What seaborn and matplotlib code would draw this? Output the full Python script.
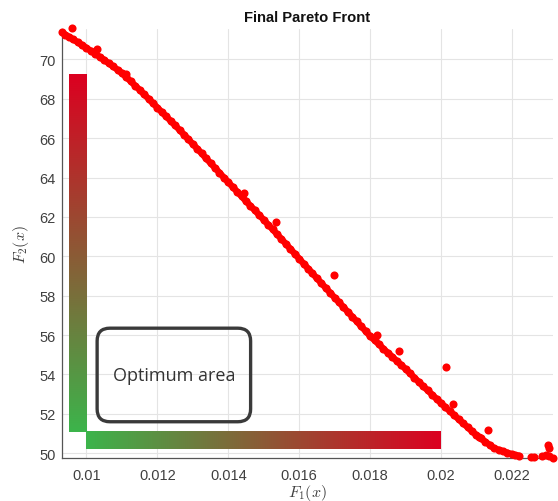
import numpy as np
import pandas as pd
import matplotlib
matplotlib.use("Agg")
import matplotlib.pyplot as plt
import seaborn as sns
from matplotlib.colors import LinearSegmentedColormap
from matplotlib.patches import FancyBboxPatch

# Non-dominated solutions of the final population (objective values)
f1_front = [
    0.009300, 0.009400, 0.009500, 0.009625, 0.009750, 0.009875,
    0.010000, 0.010125, 0.010250, 0.010375, 0.010500, 0.010625,
    0.010750, 0.010875, 0.011000, 0.011125, 0.011250, 0.011375,
    0.011500, 0.011625, 0.011750, 0.011875, 0.012000, 0.012125,
    0.012250, 0.012375, 0.012500, 0.012625, 0.012750, 0.012875,
    0.013000, 0.013125, 0.013250, 0.013375, 0.013500, 0.013625,
    0.013750, 0.013875, 0.014000, 0.014125, 0.014250, 0.014375,
    0.014500, 0.014625, 0.014750, 0.014875, 0.015000, 0.015125,
    0.015250, 0.015375, 0.015500, 0.015625, 0.015750, 0.015875,
    0.016000, 0.016125, 0.016250, 0.016375, 0.016500, 0.016625,
    0.016750, 0.016875, 0.017000, 0.017125, 0.017250, 0.017375,
    0.017500, 0.017625, 0.017750, 0.017875, 0.018000, 0.018125,
    0.018250, 0.018375, 0.018500, 0.018625, 0.018750, 0.018875,
    0.019000, 0.019125, 0.019250, 0.019375, 0.019500, 0.019625,
    0.019750, 0.019875, 0.020000, 0.020125, 0.020250, 0.020375,
    0.020500, 0.020625, 0.020750, 0.020875, 0.021000, 0.021125,
    0.021250, 0.021375, 0.021500, 0.021625, 0.021750, 0.021875,
    0.022000, 0.022100, 0.022200,
]
f2_front = [
    71.37, 71.26, 71.15, 71.01, 70.87, 70.72,
    70.58, 70.43, 70.28, 70.12, 69.97, 69.80,
    69.64, 69.47, 69.30, 69.09, 68.88, 68.66,
    68.45, 68.22, 68.00, 67.77, 67.55, 67.32,
    67.10, 66.87, 66.65, 66.41, 66.18, 65.94,
    65.70, 65.46, 65.22, 64.97, 64.73, 64.49,
    64.25, 64.00, 63.76, 63.52, 63.28, 63.04,
    62.80, 62.56, 62.33, 62.09, 61.85, 61.61,
    61.37, 61.12, 60.88, 60.63, 60.38, 60.13,
    59.88, 59.63, 59.38, 59.13, 58.88, 58.64,
    58.39, 58.15, 57.90, 57.66, 57.42, 57.17,
    56.93, 56.69, 56.44, 56.20, 55.95, 55.74,
    55.53, 55.31, 55.10, 54.90, 54.69, 54.49,
    54.28, 54.06, 53.84, 53.62, 53.40, 53.19,
    52.98, 52.76, 52.55, 52.34, 52.14, 51.93,
    51.72, 51.52, 51.32, 51.12, 50.92, 50.75,
    50.59, 50.42, 50.25, 50.18, 50.10, 50.03,
    49.95, 49.90, 49.88,
]
# Separate group of solutions at the far end of the front
f1_tail = [0.022550, 0.022620, 0.022850, 0.022950, 0.023050, 0.023150]
f2_tail = [49.81, 49.83, 49.86, 49.90, 49.85, 49.77]
# Isolated solutions lying slightly off the front
f1_scatter = [0.00960, 0.01030, 0.01111, 0.01445, 0.01536, 0.01698, 0.01820,
              0.01883, 0.02015, 0.02033, 0.02132, 0.02108, 0.02301, 0.02305]
f2_scatter = [71.57, 70.52, 69.24, 63.20, 61.76, 59.04, 55.99,
              55.20, 54.40, 52.49, 51.20, 50.81, 50.40, 50.25]

x_ticks = [0.010, 0.012, 0.014, 0.016, 0.018, 0.020, 0.022]
x_tick_labels = ["0.01", "0.012", "0.014", "0.016", "0.018", "0.02", "0.022"]
y_ticks = [50, 52, 54, 56, 58, 60, 62, 64, 66, 68, 70]

front = pd.DataFrame({"F1": f1_front, "F2": f2_front})
points = pd.DataFrame({
    "F1": f1_front + f1_tail + f1_scatter,
    "F2": f2_front + f2_tail + f2_scatter,
})

sns.set_style("white")
plt.rcParams["font.family"] = ["Liberation Sans", "DejaVu Sans"]
plt.rcParams["mathtext.fontset"] = "cm"

fig = plt.figure(figsize=(5.58, 5.02), dpi=100)
ax = fig.add_axes([0.1106, 0.0857, 0.8804, 0.8545])

# Green-to-red guide bars along both axes
g2r = LinearSegmentedColormap.from_list("g2r", ["#3cb44b", "#dc0020"])
ramp = np.linspace(0, 1, 256)
ax.imshow(ramp.reshape(-1, 1), extent=(0.0095, 0.0100, 51.08, 69.25),
          origin="lower", cmap=g2r, aspect="auto", zorder=1,
          interpolation="bilinear")
ax.imshow(ramp.reshape(1, -1), extent=(0.0100, 0.0200, 50.20, 51.08),
          origin="lower", cmap=g2r, aspect="auto", zorder=1,
          interpolation="bilinear")

# Dense front: a thick trace through the solutions plus the solution dots
sns.lineplot(data=front, x="F1", y="F2", sort=False, color="#ff0000",
             linewidth=4.6, ax=ax, zorder=3, solid_capstyle="round")
sns.scatterplot(data=points, x="F1", y="F2", color="#ff0000", s=34,
                linewidth=0, ax=ax, zorder=3, clip_on=False)

# Rounded frame marking the optimum region
frame = FancyBboxPatch((0.0103, 51.6), 0.01463 - 0.0103, 56.35 - 51.6,
                       boxstyle="round,pad=0,rounding_size=0.00036",
                       mutation_aspect=1803, transform=ax.transData,
                       facecolor="none", edgecolor="#3a3a3a",
                       linewidth=2.4, zorder=2)
ax.add_patch(frame)
ax.text(0.012465, 53.98, "Optimum area", ha="center", va="center",
        fontsize=13, family=["Open Sans", "DejaVu Sans"], color="#333333",
        zorder=4)

ax.set_xlim(0.009301, 0.02316)
ax.set_ylim(49.76, 71.54)
ax.set_xticks(x_ticks)
ax.set_xticklabels(x_tick_labels)
ax.set_yticks(y_ticks)

ax.grid(True, color="#e4e4e4", linewidth=0.8)
ax.set_axisbelow(True)
for side in ("top", "right"):
    ax.spines[side].set_visible(False)
for side in ("left", "bottom"):
    ax.spines[side].set_color("#555555")
    ax.spines[side].set_linewidth(0.9)
ax.tick_params(direction="in", length=3.5, width=0.8, colors="#555555",
               labelcolor="#404040", labelsize=10.5)
ax.tick_params(axis="x", pad=7)
ax.tick_params(axis="y", pad=4.5)

ax.set_xlabel("$F_1(x)$", fontsize=11.5, color="#404040", labelpad=0)
ax.set_ylabel("$F_2(x)$", fontsize=11.5, color="#404040", labelpad=6)
ax.set_title("Final Pareto Front", fontsize=10.6, fontweight="bold",
             color="#111111", pad=6)

fig.savefig("out.png", dpi=100, facecolor="white")
